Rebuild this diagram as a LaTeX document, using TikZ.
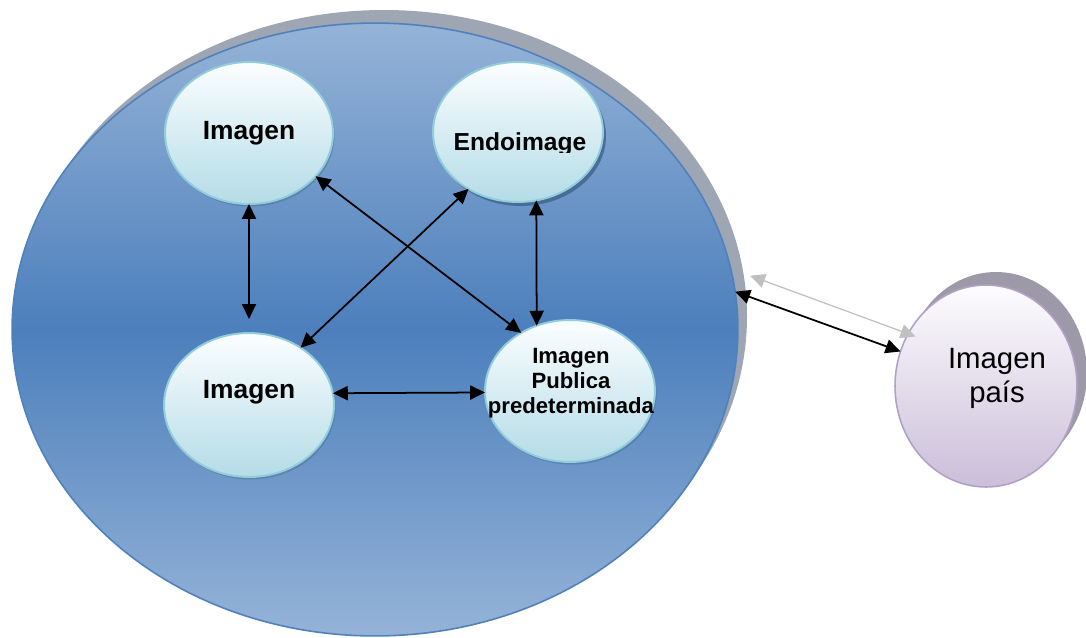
\documentclass[tikz,border=0pt]{standalone}
\usepackage{fontspec}
\setmainfont{Liberation Sans}
\usetikzlibrary{arrows.meta,shapes.geometric}

\definecolor{bigedge}{RGB}{79,129,189}
\definecolor{bigmid}{RGB}{76,127,188}
\definecolor{bigrim}{RGB}{149,179,215}
\definecolor{dither}{RGB}{158,166,180}
\definecolor{bubtop}{RGB}{252,254,255}
\definecolor{bubbot}{RGB}{180,220,231}
\definecolor{bubedge}{RGB}{146,205,220}
\definecolor{bubshade}{RGB}{60,95,135}
\definecolor{paistop}{RGB}{253,252,254}
\definecolor{paisbot}{RGB}{203,190,217}
\definecolor{paisedge}{RGB}{178,161,199}
\definecolor{paisshade}{RGB}{158,153,168}
\definecolor{ghost}{RGB}{192,192,192}

\begin{document}
\begin{tikzpicture}[x=0.02cm,y=-0.02cm,
  bigoval/.style={ellipse, draw=bigedge, line width=0.9pt, top color=bigrim,
    bottom color=bigrim, middle color=bigmid, inner sep=0pt, outer sep=0pt,
    minimum width=14.52cm, minimum height=12.26cm},
  bubble/.style={ellipse, draw=bubedge, line width=1.1pt, top color=bubtop,
    bottom color=bubbot, inner sep=0pt, outer sep=0pt},
  paisoval/.style={ellipse, draw=paisedge, line width=0.9pt, top color=paistop,
    bottom color=paisbot, inner sep=0pt, outer sep=0pt,
    minimum width=3.64cm, minimum height=4.04cm},
  bold15/.style={font=\fontsize{15}{18}\selectfont\bfseries, inner sep=0pt, anchor=base},
  bold14/.style={font=\fontsize{14}{17}\selectfont\bfseries, inner sep=0pt, anchor=base},
  bold12/.style={font=\fontsize{12.6}{14.2}\selectfont\bfseries, inner sep=0pt, anchor=base, align=center},
  plain17/.style={font=\fontsize{16.7}{19.3}\selectfont, inner sep=0pt, anchor=base, align=center},
  link/.style={line width=1pt, {Triangle[length=8.5pt,width=8pt]}-{Triangle[length=8.5pt,width=8pt]}},
  ghostlink/.style={line width=0.7pt, draw=ghost, fill=ghost, {Triangle[length=8.5pt,width=8pt]}-{Triangle[length=8.5pt,width=8pt]}}]

\useasboundingbox (0,0) rectangle (1086,637);

% outer oval and its dithered drop shadow
\fill[dither] (384,316.5) ellipse [x radius=363, y radius=306.5];
\node[bigoval] (big) at (375,329.5) {};

% soft shadows under the inner bubbles
\fill[bubshade, opacity=0.35] (250.5,135.5) ellipse [x radius=84, y radius=71];
\fill[bubshade, opacity=0.75] (521,136) ellipse [x radius=85, y radius=70];
\fill[bubshade, opacity=0.35] (250.5,407.5) ellipse [x radius=85, y radius=72];
\fill[bubshade, opacity=0.35] (571.5,393.5) ellipse [x radius=85, y radius=71];

% inner bubbles
\node[bubble, minimum width=3.36cm, minimum height=2.84cm] (img1) at (249,133) {};
\node[bubble, minimum width=3.4cm, minimum height=2.8cm] (endo) at (518,132) {};
\node[bubble, minimum width=3.4cm, minimum height=2.88cm] (img2) at (249,405) {};
\node[bubble, minimum width=3.4cm, minimum height=2.84cm] (pub) at (570,391) {};

% bubble captions
\node[bold15] (t1) at (249,139) {Imagen};
\begin{scope}
  \clip (430,110) rectangle (610,152.5);
  \node[bold14] (t2) at (520,150) {Endoimage};
\end{scope}
\node[bold15] (t3) at (249,398) {Imagen};
\node[bold12] (t4) at (571,413) {Imagen\\Publica\\predeterminada};

% links between the bubbles
\draw[link, shorten >=8pt] (img1.south) -- (img2.north);
\draw[link] (endo.-75.3) -- (pub.117.6);
\draw[link] (img2.8.2) -- (pub.181.6);
\draw[link] (img1.-33) -- (pub.130);
\draw[link] (endo.-131.3) -- (img2.48.9);

% country image bubble with its shadow
\fill[paisshade] (996,373) ellipse [x radius=91, y radius=101];
\node[paisoval] (pais) at (986,386) {};
\node[plain17] (t5) at (997,402) {Imagen\\país};

% link to the country image, with its grey echo
\draw[ghostlink] ([shift={(15,-16)}]big.6.6) -- ([shift={(15,-15)}]pais.158.4);
\draw[link] (big.6.6) -- (pais.158.4);
\end{tikzpicture}
\end{document}
